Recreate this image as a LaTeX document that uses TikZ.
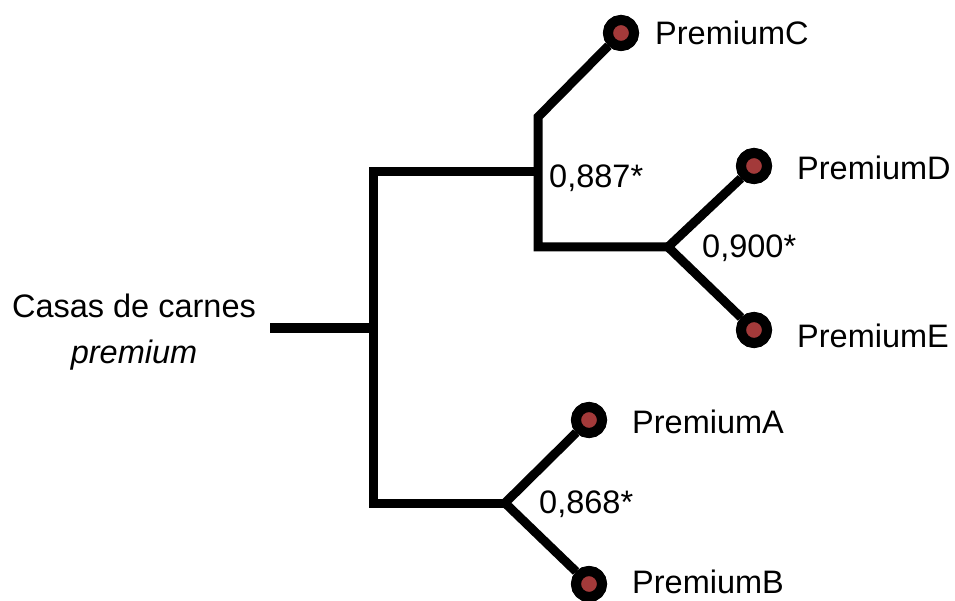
\documentclass[tikz,border=0pt]{standalone}
\usepackage{fontspec}
\setmainfont{Liberation Sans}
\definecolor{dotred}{HTML}{A33A3A}
\begin{document}
\begin{tikzpicture}[x=1pt,y=-1pt,
  branch/.style={line width=9pt,black},
  leaf/.style={circle,draw=black,line width=10pt,fill=dotred,minimum size=26pt,inner sep=0pt},
  lbl/.style={anchor=base west,inner sep=0pt,font=\fontsize{32.5}{39}\selectfont}]
\useasboundingbox[fill=white] (0,0) rectangle (955,601);
% junction coordinates
\coordinate (r0) at (270,328);
\coordinate (r1) at (373,328);
\coordinate (mt) at (373,172);
\coordinate (mb) at (373,503);
\coordinate (ut) at (538,172);
\coordinate (uv1) at (538,117);
\coordinate (uv2) at (538,247);
\coordinate (de) at (668,247);
\coordinate (ab) at (505,503);
% leaves
\node[leaf] (C) at (621,33) {};
\node[leaf] (D) at (754,166) {};
\node[leaf] (E) at (754,330) {};
\node[leaf] (A) at (589,420) {};
\node[leaf] (B) at (589,584) {};
% branches
\draw[branch] (r0) -- (r1);
\draw[branch,line join=miter] (ut) -- (mt) -- (mb) -- (ab);
\draw[branch,line join=miter] (C) -- (uv1) -- (uv2) -- (de);
\draw[branch,line join=miter] (D) -- (de) -- (E);
\draw[branch,line join=miter] (A) -- (ab) -- (B);
% redraw leaves on top
\node[leaf] at (C) {};
\node[leaf] at (D) {};
\node[leaf] at (E) {};
\node[leaf] at (A) {};
\node[leaf] at (B) {};
% labels
\node[lbl] (lC) at (655,45) {PremiumC};
\node[lbl] (lD) at (797,180) {PremiumD};
\node[lbl] (lE) at (797,348) {PremiumE};
\node[lbl] (lA) at (632,433) {PremiumA};
\node[lbl] (lB) at (632,593) {PremiumB};
\node[lbl] (n887) at (549,188) {0,887*};
\node[lbl] (n900) at (702,258) {0,900*};
\node[lbl] (n868) at (539,513) {0,868*};
\node[anchor=base,inner sep=0pt,font=\fontsize{32.5}{39}\selectfont] (root1) at (134,317) {Casas de carnes};
\node[anchor=base,inner sep=0pt,font=\fontsize{32.5}{39}\selectfont\itshape] (root2) at (134,363) {premium};
\end{tikzpicture}
\end{document}
